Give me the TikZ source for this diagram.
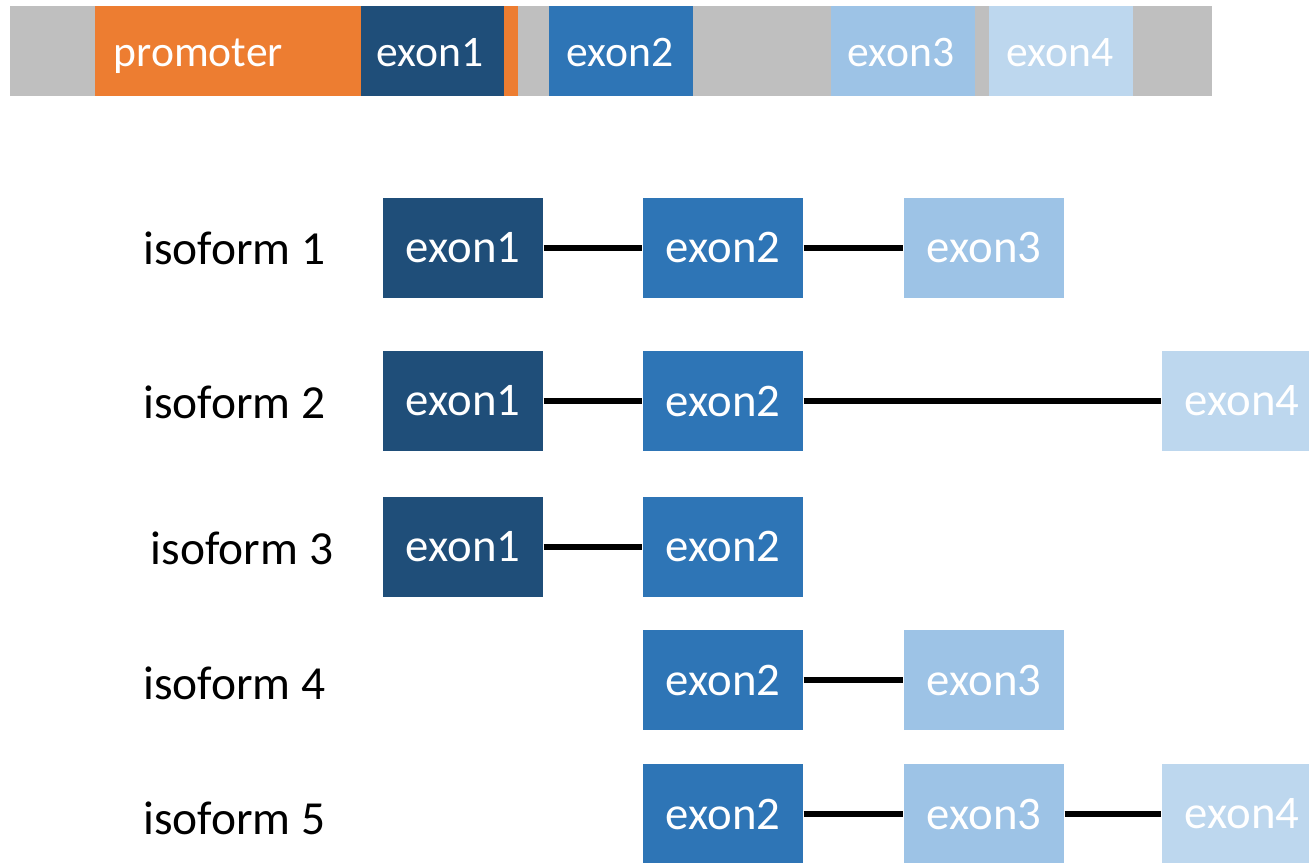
\documentclass[tikz,border=0pt]{standalone}
\usepackage{fontspec}
\setmainfont{Carlito}
\usepackage{tikz}
\definecolor{barGray}{HTML}{BFBFBF}
\definecolor{promOrange}{HTML}{ED7D31}
\definecolor{exOne}{HTML}{1F4E79}
\definecolor{exTwo}{HTML}{2E75B6}
\definecolor{exThree}{HTML}{9DC3E6}
\definecolor{exFour}{HTML}{BDD7EE}
\tikzset{
  exonbox/.style={minimum width=1.6cm, minimum height=1.0cm, inner sep=0pt,
    text=white, font=\fontsize{13.3}{15}\selectfont},
  bartext/.style={text=white, inner sep=0pt, anchor=base,
    font=\fontsize{12.4}{14}\selectfont},
  isolabel/.style={inner sep=0pt, font=\fontsize{13.5}{16}\selectfont},
  intron/.style={line width=1.7pt, black}
}

\begin{document}
\begin{tikzpicture}
    \useasboundingbox (0,0) rectangle (13.09,-8.62);
    \clip (0,0) rectangle (13.09,-8.62);
    % gene bar
    \fill[barGray] (0.10,-0.06) rectangle (12.12,-0.96);
    \fill[promOrange] (0.95,-0.06) rectangle (5.18,-0.96);
    \fill[exOne] (3.61,-0.06) rectangle (5.04,-0.96);
    \fill[exTwo] (5.49,-0.06) rectangle (6.93,-0.96);
    \fill[exThree] (8.31,-0.06) rectangle (9.75,-0.96);
    \fill[exFour] (9.89,-0.06) rectangle (11.33,-0.96);
    \node[bartext, anchor=base west] (prom) at (1.13,-0.665) {promoter};
    \node[bartext] (g1) at (4.30,-0.665) {exon1};
    \node[bartext] (g2) at (6.20,-0.665) {exon2};
    \node[bartext] (g3) at (9.01,-0.665) {exon3};
    \node[bartext] (g4) at (10.60,-0.665) {exon4};
    % isoform 1
    \node[isolabel] (iso1) at (2.345,-2.48) {isoform 1};
    \node[exonbox, fill=exOne] (a1) at (4.63,-2.475) {exon1};
    \node[exonbox, fill=exTwo] (a2) at (7.23,-2.475) {exon2};
    \node[exonbox, fill=exThree] (a3) at (9.84,-2.475) {exon3};
    \draw[intron] (a1) -- (a2);
    \draw[intron] (a2) -- (a3);
    % isoform 2
    \node[isolabel] (iso2) at (2.345,-4.02) {isoform 2};
    \node[exonbox, fill=exOne] (b1) at (4.63,-4.01) {exon1};
    \node[exonbox, fill=exTwo] (b2) at (7.23,-4.01) {exon2};
    \node[exonbox, fill=exFour] (b4) at (12.42,-4.01) {exon4};
    \draw[intron] (b1) -- (b2);
    \draw[intron] (b2) -- (b4);
    % isoform 3
    \node[isolabel] (iso3) at (2.42,-5.48) {isoform 3};
    \node[exonbox, fill=exOne] (c1) at (4.63,-5.465) {exon1};
    \node[exonbox, fill=exTwo] (c2) at (7.23,-5.465) {exon2};
    \draw[intron] (c1) -- (c2);
    % isoform 4
    \node[isolabel] (iso4) at (2.345,-6.83) {isoform 4};
    \node[exonbox, fill=exTwo] (d2) at (7.23,-6.80) {exon2};
    \node[exonbox, fill=exThree] (d3) at (9.84,-6.80) {exon3};
    \draw[intron] (d2) -- (d3);
    % isoform 5
    \node[isolabel] (iso5) at (2.345,-8.18) {isoform 5};
    \node[exonbox, fill=exTwo] (e2) at (7.23,-8.14) {exon2};
    \node[exonbox, fill=exThree] (e3) at (9.84,-8.14) {exon3};
    \node[exonbox, fill=exFour] (e4) at (12.42,-8.14) {exon4};
    \draw[intron] (e2) -- (e3);
    \draw[intron] (e3) -- (e4);
\end{tikzpicture}
\end{document}
